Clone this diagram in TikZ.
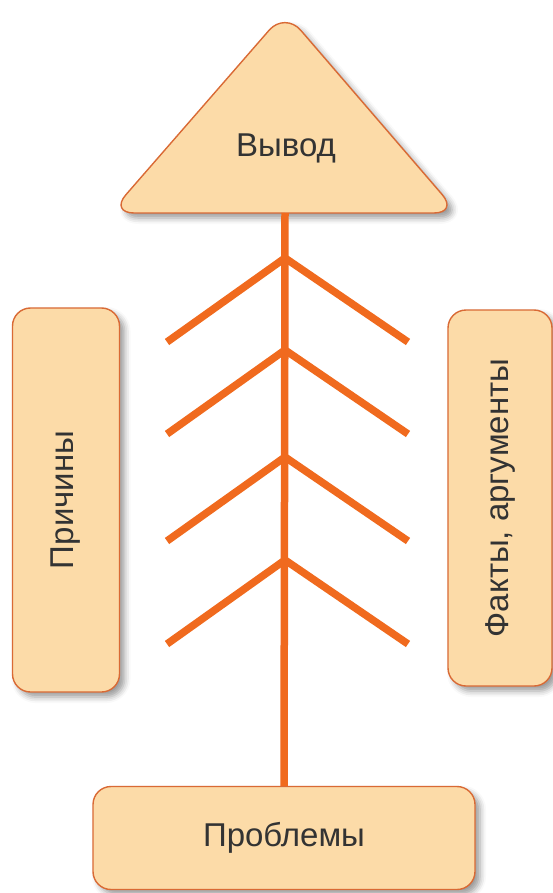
\documentclass[tikz,border=0pt]{standalone}
\usepackage{fontspec}
\setmainfont{Liberation Sans}
\usetikzlibrary{shadows.blur}
\definecolor{peach}{HTML}{FCDBA8}
\definecolor{rim}{HTML}{D96A35}
\definecolor{bonecol}{HTML}{F06A1E}
\definecolor{ink}{HTML}{333333}
\tikzset{every node/.style={font=\fontsize{33}{36}\selectfont,text=ink}}
\tikzset{box/.style={rectangle,rounded corners=18pt,draw=rim,line width=1.4pt,fill=peach,
  blur shadow={shadow xshift=5pt,shadow yshift=-5pt,shadow blur radius=6pt,shadow opacity=40}}}
\tikzset{sidebox/.style={box,rotate=90}}
\tikzset{bone/.style={draw=bonecol,line width=7.5pt}}

\begin{document}
\begin{tikzpicture}[x=1pt,y=-1pt]
      \useasboundingbox (0,0) rectangle (553,893);
      % head
      \path[draw=rim,line width=1.4pt,fill=peach,rounded corners=24pt,
        blur shadow={shadow xshift=5pt,shadow yshift=-5pt,shadow blur radius=6pt,shadow opacity=40}]
        (110,213) -- (285,12) -- (458,213) -- cycle;
      \node (head) at (286,148) {Вывод};
      \coordinate (top) at (285,213);
      % boxes
      \node[sidebox,minimum width=384pt,minimum height=107pt] (causes) at (66,500) {Причины};
      \node[sidebox,minimum width=376pt,minimum height=104pt] (facts) at (500,498) {Факты, аргументы};
      \node[box,minimum width=382pt,minimum height=103pt] (problems) at (284,838) {Проблемы};
      % skeleton
      \draw[bone] (top) -- (problems.north);
      \foreach \j/\y in {1/258,2/350,3/457,4/560} {
        \coordinate (j\j) at (285,\y);
        \coordinate (l\j) at (167,\y+84);
        \coordinate (r\j) at (408,\y+84);
        \draw[bone] (l\j) -- (j\j) -- (r\j);
      }
    \end{tikzpicture}
\end{document}
